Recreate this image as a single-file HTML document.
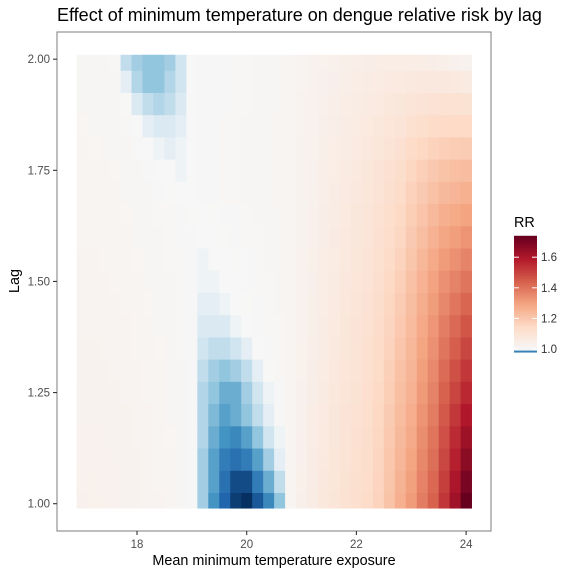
<!DOCTYPE html>
<html><head><meta charset="utf-8"><style>
html,body{margin:0;padding:0;background:#fff;}
svg{display:block;font-family:"Liberation Sans",Arial,sans-serif;}
</style></head><body>
<svg id="chart" width="576" height="576" viewBox="0 0 576 576">
<rect x="0" y="0" width="576" height="576" fill="#fff"/>
<text x="57" y="21" font-size="18" fill="#000">Effect of minimum temperature on dengue relative risk by lag</text>
<g id="tiles"></g>
<rect x="57" y="32" width="434" height="499" fill="none" stroke="#888" stroke-width="1.1"/>
<g id="axes"></g>
<text x="274" y="565" font-size="14.4" text-anchor="middle" fill="#000">Mean minimum temperature exposure</text>
<text transform="translate(19,281) rotate(-90)" font-size="14.4" text-anchor="middle" fill="#000">Lag</text>
<text x="514" y="227" font-size="14.4" fill="#000">RR</text>
<g id="legend"></g>
</svg>
<script>
const temps = [17.0,17.2,17.4,17.6,17.8,18.0,18.2,18.4,18.6,18.8,19.0,19.2,19.4,19.6,19.8,20.0,20.2,20.4,20.6,20.8,21.0,21.2,21.4,21.6,21.8,22.0,22.2,22.4,22.6,22.8,23.0,23.2,23.4,23.6,23.8,24.0];
const lags = [1.00,1.05,1.10,1.15,1.20,1.25,1.30,1.35,1.40,1.45,1.50,1.55,1.60,1.65,1.70,1.75,1.80,1.85,1.90,1.95,2.00];
// RR values stored as (RR - 1) * 1000, one row per lag
const rr = [
[35,34,33,31,29,26,23,19,15,10,4,-7,-12,-16,-19,-20,-17,-13,-8,15,40,60,80,95,110,125,140,170,215,265,315,385,440,530,630,740],
[34,33,32,30,28,25,22,18,14,10,4,-7,-11,-15,-18,-18,-14,-10,-5,15,39,58,77,92,107,122,137,166,209,257,304,372,426,512,604,704],
[32,31,30,28,26,24,21,17,14,9,4,-7,-11,-14,-15,-14,-11,-7,-2,15,38,56,74,89,104,118,134,162,203,249,293,359,412,494,578,668],
[30,30,29,27,25,22,20,16,13,9,4,-6,-10,-12,-13,-11,-8,-4,-1,15,37,54,71,86,101,115,131,158,197,241,282,346,398,476,552,632],
[29,28,27,26,24,21,19,15,12,8,4,-6,-9,-11,-10,-8,-5,-2,3,15,36,52,68,83,98,111,128,154,191,233,271,333,384,458,526,596],
[28,27,26,25,23,20,18,15,12,8,4,-6,-8,-10,-10,-7,-4,-1,4,15,35,50,65,80,95,108,125,150,185,225,260,320,370,440,500,560],
[26,26,25,23,21,19,16,14,11,8,4,-5,-7,-8,-7,-5,-2,2,5,15,34,48,62,77,92,105,121,145,178,216,252,308,356,420,474,528],
[25,24,23,22,20,18,15,13,10,7,4,-4,-5,-5,-4,-2,0,3,6,15,33,46,60,74,88,102,117,140,171,207,244,296,342,400,448,496],
[23,23,22,21,19,17,14,12,9,7,4,-3,-3,-3,-1,1,3,5,7,15,32,44,57,71,85,98,113,135,164,198,236,284,328,380,422,464],
[22,21,20,19,17,15,13,11,9,6,4,-2,-2,-1,0,2,4,6,8,15,31,42,55,68,81,95,109,130,157,189,228,272,314,360,396,432],
[20,20,19,18,16,14,12,10,8,6,4,-1,-1,0,1,3,5,7,9,15,30,40,52,65,78,92,105,125,150,180,220,260,300,340,370,400],
[19,19,18,17,15,13,11,9,7,5,3,-1,0,1,2,4,6,8,10,15,30,39,51,63,75,89,101,120,143,170,208,244,280,315,341,366],
[18,18,17,16,14,12,10,8,6,4,3,0,1,2,3,5,7,9,11,15,29,38,49,61,73,85,97,115,136,160,196,228,260,290,312,332],
[17,17,16,15,13,11,9,7,5,3,2,1,2,3,4,6,8,10,12,15,29,37,48,59,70,82,93,110,129,150,184,212,240,265,283,298],
[16,16,15,14,12,10,8,4,2,0,1,3,4,5,6,8,10,12,14,15,28,36,46,57,68,78,89,105,122,140,172,196,220,240,254,264],
[15,15,14,13,11,8,4,1,0,-1,1,3,4,5,6,8,10,12,14,15,28,35,45,55,65,75,85,100,115,130,160,180,200,215,225,230],
[14,13,12,11,10,3,0,-1,-2,-1,0,3,4,5,6,8,10,12,14,15,27,34,43,52,60,69,78,90,103,115,139,154,170,180,187,189],
[13,12,11,10,5,0,-2,-3,-3,-2,0,3,4,5,6,8,10,12,14,15,26,32,40,48,56,63,71,81,91,100,118,129,139,146,149,148],
[12,11,10,9,2,-3,-5,-6,-5,-3,1,3,3,4,5,6,8,10,12,15,24,31,38,45,51,58,64,71,79,85,97,103,109,111,111,107],
[11,10,9,8,-2,-6,-8,-8,-6,-4,0,3,3,4,5,6,8,10,12,15,23,29,35,41,47,52,57,62,67,70,76,78,78,77,73,66],
[10,9,8,7,-5,-7,-8,-8,-7,-4,0,3,3,4,5,6,8,10,12,15,22,28,33,38,42,46,50,52,55,55,55,52,48,42,35,25]
];
const xTicks = [18,20,22,24];
const yTicks = [1.00,1.25,1.50,1.75,2.00];
const yTickLabels = ["1.00","1.25","1.50","1.75","2.00"];
const legendTicks = [1.0,1.2,1.4,1.6];
const legendTickLabels = ["1.0","1.2","1.4","1.6"];

const NS = "http://www.w3.org/2000/svg";
const xs = v => 137 + (v - 18) * 54.85;
const ys = v => 503.7 - (v - 1) * 444.5;
const redStops = ["#F7F7F7","#FDDBC7","#F4A582","#D6604D","#B2182B","#67001F"];
const blueStops = ["#F7F7F7","#D1E5F0","#92C5DE","#4393C3","#2166AC","#053061"];
let vmax = -Infinity, vmin = Infinity;
rr.forEach(r => r.forEach(v => { if (v > vmax) vmax = v; if (v < vmin) vmin = v; }));
function hex(h){return [parseInt(h.slice(1,3),16),parseInt(h.slice(3,5),16),parseInt(h.slice(5,7),16)];}
function ramp(stops,t){
  t=Math.max(0,Math.min(1,t)); const p=t*(stops.length-1); const i=Math.min(Math.floor(p),stops.length-2); const f=p-i;
  const a=hex(stops[i]), b=hex(stops[i+1]);
  return "rgb("+a.map((c,k)=>Math.round(c+(b[k]-c)*f)).join(",")+")";
}
function color(v){ return v>=0 ? ramp(redStops, v/vmax) : ramp(blueStops, v/vmin); }
function mk(tag, attrs, parent){ const e=document.createElementNS(NS,tag); for(const k in attrs) e.setAttribute(k,attrs[k]); parent.appendChild(e); return e; }

const tiles = document.getElementById("tiles");
const dx = 0.1, dy = 0.025, yLo = 0.99, yHi = 2.01;
lags.forEach((lag, r) => {
  temps.forEach((t, c) => {
    const y0 = Math.max(yLo, lag - dy), y1 = Math.min(yHi, lag + dy);
    const x0 = xs(t - dx), x1 = xs(t + dx);
    const el = mk("rect", {x:x0, y:ys(y1), width:x1-x0+0.4, height:ys(y0)-ys(y1)+0.4, fill:color(rr[r][c])}, tiles);
    
    
  });
});

const axes = document.getElementById("axes");
xTicks.forEach(v => {
  const l = mk("line", {x1:xs(v), x2:xs(v), y1:531, y2:535, stroke:"#333", "stroke-width":1.1}, axes);
  
  
  const tx = mk("text", {x:xs(v), y:548, "font-size":11.5, "text-anchor":"middle", fill:"#4D4D4D"}, axes);
  tx.textContent = String(v);
  
  
});
yTicks.forEach((v, i) => {
  const l = mk("line", {x1:53, x2:57, y1:ys(v), y2:ys(v), stroke:"#333", "stroke-width":1.1}, axes);
  
  
  const tx = mk("text", {x:50, y:ys(v)+4, "font-size":11.5, "text-anchor":"end", fill:"#4D4D4D"}, axes);
  tx.textContent = yTickLabels[i];
  
  
});

const legend = document.getElementById("legend");
const lmin = 1 + vmin/1000, lmax = 1 + vmax/1000;
const lyS = v => 349 - (v - 1) * 153;
const steps = 60;
for (let i = 0; i < steps; i++) {
  const a = lmin + (lmax - lmin) * i / steps, b = lmin + (lmax - lmin) * (i + 1) / steps;
  const mid = ((a + b) / 2 - 1) * 1000;
  const el = mk("rect", {x:514, y:lyS(b), width:23, height:lyS(a)-lyS(b)+0.5, fill:color(mid)}, legend);
  
  
}
legendTicks.forEach((v, i) => {
  const y = lyS(v);
  [[514,519],[532,537]].forEach(p => {
    const l = mk("line", {x1:p[0], x2:p[1], y1:y, y2:y, stroke:"#fff", "stroke-width":1}, legend);
    
    
  });
  const tx = mk("text", {x:541, y:y+4, "font-size":11.5, fill:"#333"}, legend);
  tx.textContent = legendTickLabels[i];
  
  
});
</script>
</body></html>
